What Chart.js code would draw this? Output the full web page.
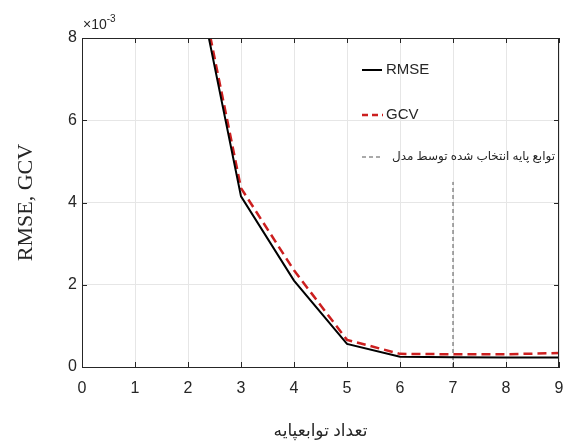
<!DOCTYPE html>
<html>
<head>
<meta charset="utf-8">
<script src="https://cdn.jsdelivr.net/npm/chart.js@4.4.1/dist/chart.umd.min.js"></script>
<style>
  html, body { margin: 0; padding: 0; background: #fff; }
  #wrap { width: 565px; height: 445px; }
</style>
</head>
<body>
<div id="wrap"><canvas id="chart"></canvas></div>
<script>
// Number of basis functions and error values
const basisCount = [2, 3, 4, 5, 6, 7, 8, 9];
const rmseValues = [10.5e-3, 4.15e-3, 2.1e-3, 0.56e-3, 0.25e-3, 0.24e-3, 0.23e-3, 0.23e-3];
const gcvValues = [10.7e-3, 4.35e-3, 2.35e-3, 0.66e-3, 0.32e-3, 0.31e-3, 0.31e-3, 0.34e-3];
// Basis count selected by the model (vertical marker)
const selectedX = [7, 7];
const selectedY = [0, 4.5e-3];

const xTicks = [0, 1, 2, 3, 4, 5, 6, 7, 8, 9];
const yTicks = [0, 2e-3, 4e-3, 6e-3, 8e-3];

const legendLabels = ['RMSE', 'GCV', 'توابع پایه انتخاب شده توسط مدل'];

const narrow = "'Liberation Sans Narrow', 'Arial Narrow', 'Liberation Sans', sans-serif";
const colors = {
    rmse: '#000000',
    gcv: '#cc1f1f',
    marker: '#555555',
    grid: '#e6e6e6',
    axis: '#262626',
    text: '#262626'
};

const toPoints = (xs, ys) => xs.map((x, i) => ({ x: x, y: ys[i] }));

// MATLAB-like box, inward ticks, exponent label and legend
const matlabBox = {
    id: 'matlabBox',
    afterDraw(chart) {
        const { ctx, chartArea: a, scales } = chart;
        ctx.save();
        ctx.strokeStyle = colors.axis;
        ctx.lineWidth = 1;
        ctx.strokeRect(a.left + 0.5, a.top + 0.5, a.right - a.left - 1, a.bottom - a.top);
        ctx.beginPath();
        xTicks.forEach(v => {
            const px = Math.round(scales.x.getPixelForValue(v)) + 0.5;
            ctx.moveTo(px, a.bottom); ctx.lineTo(px, a.bottom - 5);
            ctx.moveTo(px, a.top); ctx.lineTo(px, a.top + 5);
        });
        yTicks.forEach(v => {
            const py = Math.round(scales.y.getPixelForValue(v)) + 0.5;
            ctx.moveTo(a.left, py); ctx.lineTo(a.left + 5, py);
            ctx.moveTo(a.right, py); ctx.lineTo(a.right - 5, py);
        });
        ctx.stroke();

        // exponent
        ctx.fillStyle = colors.text;
        ctx.textBaseline = 'alphabetic';
        ctx.textAlign = 'left';
        ctx.font = '14px ' + narrow;
        ctx.fillText('\u00d710', a.left + 1, a.top - 9);
        const w = ctx.measureText('\u00d710').width;
        ctx.font = '10px ' + narrow;
        ctx.fillText('-3', a.left + 1 + w, a.top - 16);

        // legend
        const lx = 362, rows = [70, 115, 157];
        ctx.lineCap = 'butt';
        ctx.lineWidth = 2;
        ctx.strokeStyle = colors.rmse;
        ctx.setLineDash([]);
        ctx.beginPath(); ctx.moveTo(lx, rows[0]); ctx.lineTo(lx + 20, rows[0]); ctx.stroke();
        ctx.lineWidth = 2.5;
        ctx.strokeStyle = colors.gcv;
        ctx.setLineDash([6, 4]);
        ctx.beginPath(); ctx.moveTo(lx, rows[1]); ctx.lineTo(lx + 21, rows[1]); ctx.stroke();
        ctx.lineWidth = 1;
        ctx.strokeStyle = colors.marker;
        ctx.setLineDash([4, 3]);
        ctx.beginPath(); ctx.moveTo(lx, rows[2]); ctx.lineTo(lx + 20, rows[2]); ctx.stroke();
        ctx.setLineDash([]);
        ctx.textBaseline = 'middle';
        ctx.font = '15px ' + narrow;
        ctx.fillText(legendLabels[0], lx + 24, rows[0]);
        ctx.fillText(legendLabels[1], lx + 24, rows[1]);
        ctx.font = "12px 'Noto Sans', 'DejaVu Sans', sans-serif";
        ctx.textAlign = 'right';
        ctx.fillText(legendLabels[2], 555, rows[2]);
        ctx.restore();
    }
};

new Chart(document.getElementById('chart'), {
    type: 'line',
    data: {
        datasets: [{
            label: legendLabels[0],
            data: toPoints(basisCount, rmseValues),
            borderColor: colors.rmse,
            borderWidth: 2,
            pointRadius: 0,
            tension: 0
        }, {
            label: legendLabels[1],
            data: toPoints(basisCount, gcvValues),
            borderColor: colors.gcv,
            borderWidth: 2.5,
            borderDash: [9, 5],
            pointRadius: 0,
            tension: 0
        }, {
            label: legendLabels[2],
            data: toPoints(selectedX, selectedY),
            borderColor: colors.marker,
            borderWidth: 1,
            borderDash: [4, 3],
            pointRadius: 0
        }]
    },
    options: {
        responsive: true,
        maintainAspectRatio: false,
        animation: false,
        layout: { padding: { top: 38, right: 6, left: 0, bottom: 0 } },
        plugins: {
            legend: { display: false },
            tooltip: { enabled: false }
        },
        scales: {
            x: {
                type: 'linear',
                min: 0,
                max: 9,
                afterFit: s => { s.height = 78; s.paddingLeft = 0; s.paddingRight = 0; },
                afterBuildTicks: s => { s.ticks = xTicks.map(v => ({ value: v })); },
                grid: { color: colors.grid, drawTicks: false },
                border: { color: colors.axis },
                ticks: {
                    color: colors.text,
                    padding: 12,
                    font: { family: narrow, size: 16 },
                    maxRotation: 0
                },
                title: {
                    display: true,
                    text: 'تعداد توابعپایه',
                    color: colors.text,
                    font: { family: "'Noto Sans', 'DejaVu Sans', sans-serif", size: 17 },
                    padding: { top: 22 }
                }
            },
            y: {
                min: 0,
                max: 8e-3,
                afterFit: s => { s.width = 82; },
                afterBuildTicks: s => { s.ticks = yTicks.map(v => ({ value: v })); },
                grid: { color: colors.grid, drawTicks: false },
                border: { color: colors.axis },
                ticks: {
                    color: colors.text,
                    padding: 5,
                    font: { family: narrow, size: 16 },
                    callback: v => String(Math.round(v * 1000))
                },
                title: {
                    display: true,
                    text: 'RMSE, GCV',
                    color: colors.text,
                    font: { family: "'Liberation Serif', 'Times New Roman', serif", size: 22 },
                    padding: { top: 13, bottom: 0 }
                }
            }
        }
    },
    plugins: [matlabBox]
});
</script>
</body>
</html>
